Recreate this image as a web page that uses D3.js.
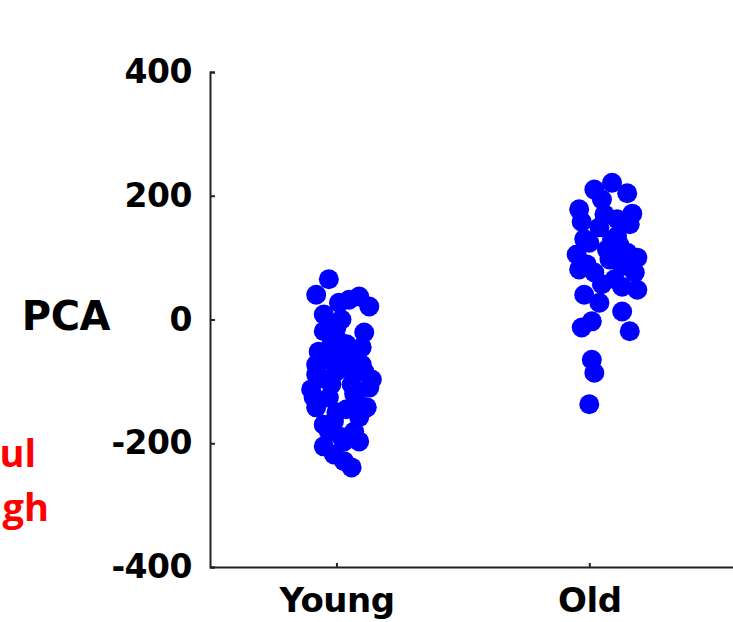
<!DOCTYPE html>
<html>
<head>
<meta charset="utf-8">
<script src="https://cdn.jsdelivr.net/npm/d3@7"></script>
<style>
  body { margin: 0; background: #fff; overflow: hidden; }
</style>
</head>
<body>
<script>
// categories and their x position on the axis
const groups = ["Young", "Old"];
const groupPos = [1, 2];

// jitter (in category units) and PCA score for every sample
const youngJitter = [-0.03, -0.08, 0.09, 0.13, 0.01, 0.11, -0.05, -0.05, 0.00, 0.04, -0.07, 0.08, -0.08, 0.10, -0.08, 0.00, 0.11, 0.13, -0.09, -0.03, 0.08, -0.08, 0.12, -0.01, 0.09, -0.03, 0.07, -0.05, 0.03, 0.09, -0.01, 0.03, 0.06, 0.02, 0.06, -0.02, 0.04, -0.04, 0.02, -0.10, 0.14, 0.05, -0.02, 0.00, 0.10, -0.06, 0.05, 0.00, -0.05, 0.07, 0.02];
const youngPCA = [65, 40, 37, 21, 27, -21, 8, -19, -13, -40, -52, -57, -73, -73, -89, -84, -84, -110, -126, -126, -133, -142, -142, -165, -158, -181, -181, -205, -197, -197, -218, -229, -239, 0, -105, -105, -145, -65, -61, -113, -97, 32, -40, -30, -45, -95, -80, -150, -170, -120, -190];

const oldJitter = [0.09, 0.02, 0.15, -0.04, 0.17, 0.11, -0.03, 0.04, 0.16, 0.00, 0.09, -0.05, 0.15, 0.19, -0.01, 0.08, 0.13, -0.04, 0.18, 0.02, 0.10, 0.19, 0.13, -0.02, 0.04, 0.13, -0.03, 0.01, 0.16, 0.01, 0.02, 0.00, 0.05, 0.07, 0.05, 0.11, 0.06, -0.02, 0.12];
const oldPCA = [221, 210, 204, 178, 171, 162, 158, 149, 154, 124, 129, 105, 108, 100, 89, 97, 86, 81, 76, 76, 65, 48, 53, 40, 27, 13, -13, -3, -19, -65, -86, -137, 194, 113, 57, 135, 170, 130, 120];

const yTicks = [-400, -200, 0, 200, 400];

// side note that is cut off by the left edge
const noteLines = ["ul", "gh"];

const width = 733, height = 622;

const x = d3.scaleLinear().domain([0.5, 2.6]).range([210, 741]);
const y = d3.scaleLinear().domain([-400, 400]).range([567, 72]);

const svg = d3.select("body").append("svg")
  .attr("width", width)
  .attr("height", height)
  .style("font-family", "DejaVu Sans, sans-serif")
  .style("font-weight", "bold");

// points
const points = [];
youngPCA.forEach((v, i) => points.push({ x: groupPos[0] + youngJitter[i], y: v }));
oldPCA.forEach((v, i) => points.push({ x: groupPos[1] + oldJitter[i], y: v }));

svg.append("g")
  .selectAll("circle")
  .data(points)
  .join("circle")
  .attr("cx", d => x(d.x))
  .attr("cy", d => y(d.y))
  .attr("r", 10)
  .attr("fill", "#0000ff");

// y axis, ticks pointing inward
const yAxis = svg.append("g")
  .attr("transform", `translate(${x(0.5)},0)`)
  .call(d3.axisLeft(y).tickValues(yTicks).tickSize(-5).tickSizeOuter(-5).tickPadding(18).tickFormat(d => String(d)));

// x axis
const xAxis = svg.append("g")
  .attr("transform", `translate(0,${y(-400)})`)
  .call(d3.axisBottom(x).tickValues(groupPos).tickSize(-4).tickSizeOuter(0).tickFormat((d, i) => groups[i]));

[yAxis, xAxis].forEach(g => {
  g.attr("font-family", null).attr("font-size", null);
  g.selectAll("path, line").attr("stroke", "#222").attr("stroke-width", 2);
  g.selectAll("text").attr("fill", "#000");
});
yAxis.selectAll("text").style("font-size", "33px").style("letter-spacing", "-0.5px");
xAxis.selectAll("text").style("font-size", "34px").style("letter-spacing", "-0.5px").attr("y", 45).attr("dy", 0);

// y axis title
svg.append("text")
  .attr("x", 110)
  .attr("y", 330)
  .attr("text-anchor", "end")
  .style("font-size", "40px")
  .style("letter-spacing", "-0.5px")
  .text("PCA");

// red note
svg.append("g")
  .selectAll("text")
  .data(noteLines)
  .join("text")
  .attr("x", (d, i) => i === 0 ? 36 : 49)
  .attr("y", (d, i) => 467 + i * 54)
  .attr("text-anchor", "end")
  .attr("fill", "#ff0000")
  .style("font-family", "Open Sans, sans-serif")
  .style("font-size", "38px")
  .text(d => d);
</script>
</body>
</html>
